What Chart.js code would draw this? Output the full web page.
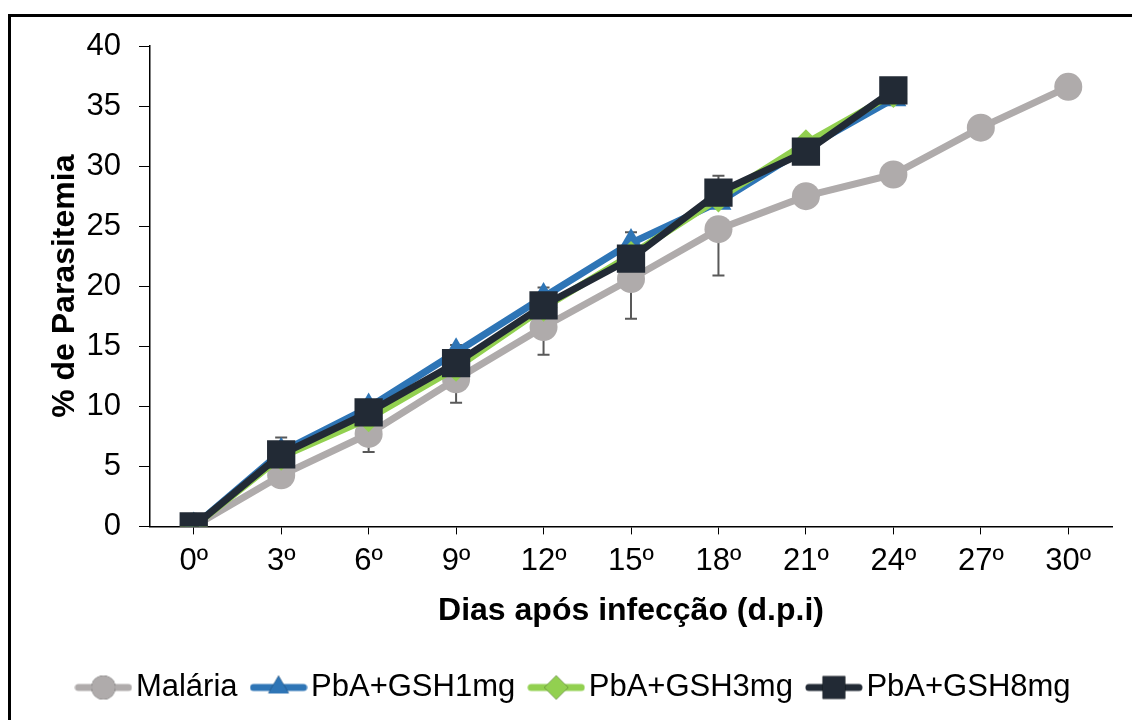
<!DOCTYPE html>
<html>
<head>
<meta charset="utf-8">
<script src="https://cdn.jsdelivr.net/npm/chart.js@4"></script>
<style>
    body { margin: 0; background: #fff; overflow: hidden; }
    #wrap { position: relative; width: 1132px; height: 720px; }
    #frame { position: absolute; left: 8px; top: 14px; width: 1200px; height: 800px;
             border: 3px solid #000; pointer-events: none; }
</style>
</head>
<body>
<div id="wrap">
    <canvas id="chart" width="1132" height="720"></canvas>
    <div id="frame"></div>
</div>
<script>
// data
var days = ['0º', '3º', '6º', '9º', '12º', '15º', '18º', '21º', '24º', '27º', '30º']
var malaria = [0, 4.25, 7.7, 12.25, 16.6, 20.6, 24.75, 27.5, 29.3, 33.2, 36.6]
var gsh1 = [0, 6.2, 9.9, 14.5, 19.1, 23.6, 27.0, 31.5, 35.6]
var gsh3 = [0, 5.8, 9.0, 13.2, 18.2, 22.6, 27.3, 31.9, 36.0]
var gsh8 = [0, 6.0, 9.5, 13.6, 18.4, 22.3, 27.8, 31.2, 36.3]

// error bars (only the visible halves)
var malariaErrDown = [0, 0.9, 1.5, 1.95, 2.3, 3.3, 3.85, 0, 0, 0, 0]
var gsh1ErrUp = [0, 0, 0, 0.6, 0.8, 0.9, 0, 0, 0]
var gsh8ErrUp = [0, 1.4, 0, 0, 0, 0, 1.4, 0, 0]

var FONT = "Arial, 'Liberation Sans', sans-serif"
var GRAY = '#AFABAB'
var BLUE = '#2E75B6'
var GREEN = '#92D050'
var NAVY = '#222A35'

function legendIcon(color, style, radius) {
    var c = document.createElement('canvas')
    c.width = 58
    c.height = 32
    var ctx = c.getContext('2d')
    ctx.strokeStyle = color
    ctx.lineWidth = 7
    ctx.lineCap = 'round'
    ctx.beginPath()
    ctx.moveTo(4, 16)
    ctx.lineTo(54, 16)
    ctx.stroke()
    Chart.helpers.drawPoint(ctx, {pointStyle: style, radius: radius, rotation: 0, borderWidth: 0}, 29, 16)
    ctx.fillStyle = color
    ctx.fill()
    return c
}

var errorBars = {
    id: 'errorBars',
    beforeDatasetsDraw: function(chart) {
        var ctx = chart.ctx
        var x = chart.scales.x
        var y = chart.scales.y
        var sets = [
            {vals: malaria, err: malariaErrDown, dir: -1},
            {vals: gsh1, err: gsh1ErrUp, dir: 1},
            {vals: gsh8, err: gsh8ErrUp, dir: 1},
        ]
        ctx.save()
        ctx.strokeStyle = '#595959'
        ctx.lineWidth = 2
        sets.forEach(function(s) {
            for (let i = 0; i < s.vals.length; i++) {
                if (!s.err[i]) continue
                var px = x.getPixelForValue(i)
                var y0 = y.getPixelForValue(s.vals[i])
                var y1 = y.getPixelForValue(s.vals[i] + s.dir * s.err[i])
                ctx.beginPath()
                ctx.moveTo(px, y0)
                ctx.lineTo(px, y1)
                ctx.moveTo(px - 6, y1)
                ctx.lineTo(px + 6, y1)
                ctx.stroke()
            }
        })
        ctx.restore()
    }
}

function series(label, data, color, style, radius, order) {
    return {
        label: label,
        data: data,
        borderColor: color,
        backgroundColor: color,
        borderWidth: 7,
        pointStyle: style,
        pointRadius: radius,
        pointBorderWidth: 0,
        pointBackgroundColor: color,
        tension: 0,
        order: order,
        icon: legendIcon(color, style, style == 'rect' ? 16 : 12),
    }
}

new Chart(document.getElementById('chart'), {
    type: 'line',
    data: {
        labels: days,
        datasets: [
            series('Malária', malaria, GRAY, 'circle', 14, 4),
            series('PbA+GSH1mg', gsh1, BLUE, 'triangle', 15, 3),
            series('PbA+GSH3mg', gsh3, GREEN, 'rectRot', 14, 2),
            series('PbA+GSH8mg', gsh8, NAVY, 'rect', 20, 1),
        ],
    },
    options: {
        responsive: false,
        animation: false,
        layout: {
            padding: {left: 44, right: 19, top: 46, bottom: 7},
        },
        scales: {
            x: {
                offset: true,
                grid: {
                    display: true,
                    drawOnChartArea: false,
                    offset: false,
                    tickLength: 8,
                    color: '#000',
                },
                border: {color: '#000', width: 1.5},
                ticks: {
                    color: '#000',
                    padding: 8,
                    font: {family: FONT, size: 31},
                    maxRotation: 0,
                },
                title: {
                    display: true,
                    text: 'Dias após infecção (d.p.i)',
                    color: '#000',
                    font: {family: FONT, size: 32, weight: 'bold'},
                    padding: {top: 4, bottom: 18},
                },
            },
            y: {
                min: 0,
                max: 40,
                afterFit: function(scale) { scale.width = 106 },
                grid: {
                    display: true,
                    drawOnChartArea: false,
                    tickLength: 11,
                    color: '#000',
                },
                border: {color: '#000', width: 1.5},
                ticks: {
                    stepSize: 5,
                    color: '#000',
                    padding: 18,
                    font: {family: FONT, size: 31},
                },
                title: {
                    display: true,
                    text: '% de Parasitemia',
                    color: '#000',
                    font: {family: FONT, size: 32, weight: 'bold'},
                    padding: {top: 2, bottom: 0},
                },
            },
        },
        plugins: {
            tooltip: {enabled: false},
            legend: {
                position: 'bottom',
                labels: {
                    usePointStyle: true,
                    pointStyleWidth: 34,
                    padding: 24,
                    color: '#000',
                    font: {family: FONT, size: 31},
                    generateLabels: function(chart) {
                        return chart.data.datasets.map(function(ds, i) {
                            return {
                                text: ds.label,
                                pointStyle: ds.icon,
                                fillStyle: ds.borderColor,
                                strokeStyle: ds.borderColor,
                                lineWidth: 0,
                                fontColor: '#000',
                                datasetIndex: i,
                                hidden: false,
                            }
                        })
                    },
                },
            },
        },
    },
    plugins: [errorBars],
})
</script>
</body>
</html>
